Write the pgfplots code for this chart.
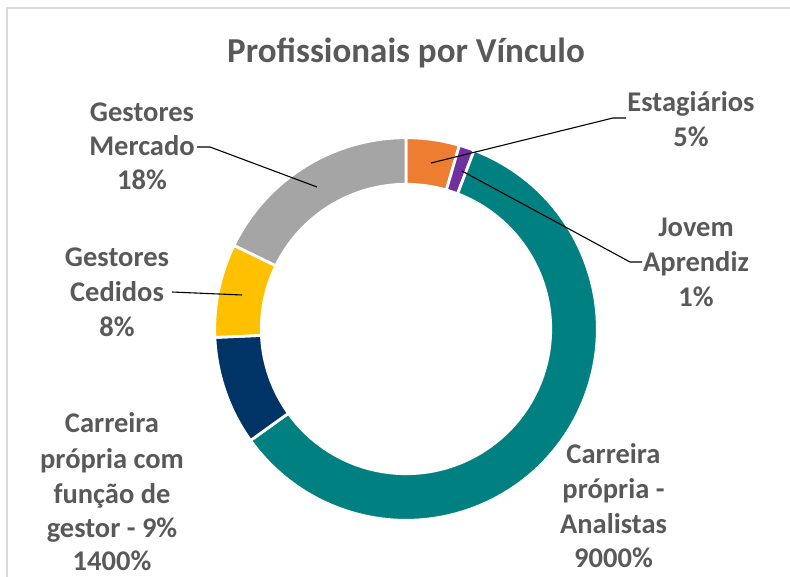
\documentclass[border=0pt]{standalone}
\usepackage{pgfplots}
\usepackage{pgfplotstable}
\pgfplotsset{compat=1.18}
\usepackage{fontspec}
\setmainfont{Carlito}
\definecolor{slice0}{HTML}{ED7D31}
\definecolor{slice1}{HTML}{7030A0}
\definecolor{slice2}{HTML}{008080}
\definecolor{slice3}{HTML}{003366}
\definecolor{slice4}{HTML}{FFC000}
\definecolor{slice5}{HTML}{A5A5A5}
\definecolor{txt}{HTML}{595959}
\definecolor{frame}{HTML}{D9D9D9}

% share of each slice (percent of the ring), clockwise from 12 o'clock
\pgfplotstableread[col sep=comma]{
idx,value
0,4.5
1,1.3
2,59.3
3,9.2
4,7.9
5,17.8
}\slices

\pgfmathsetmacro\cum{0}
\pgfplotsforeachungrouped \i in {0,...,5}{%
  \pgfplotstablegetelem{\i}{value}\of\slices
  \pgfmathsetmacro\aa{90-3.6*\cum}%
  \pgfmathsetmacro\cum{\cum+\pgfplotsretval}%
  \pgfmathsetmacro\bb{90-3.6*\cum}%
  \expandafter\xdef\csname sA\i\endcsname{\aa}%
  \expandafter\xdef\csname sB\i\endcsname{\bb}%
}

\tikzset{lbl/.style={anchor=base, text=txt, font=\fontsize{28.5}{35}\selectfont\bfseries, inner sep=0pt}}

\begin{document}
\begin{tikzpicture}
\useasboundingbox (0,0) rectangle (790pt,576pt);
\begin{axis}[
  at={(0pt,0pt)}, anchor=south west,
  x=1pt, y=1pt,
  xmin=0, xmax=790, ymin=0, ymax=576,
  hide axis, clip=false,
]
% frame
\draw[frame, line width=1.5pt] (axis cs:7,-20) -- (axis cs:7,568) -- (axis cs:820,568);
% ring slices
\pgfplotsinvokeforeach{0,...,5}{
  \filldraw[fill=slice#1, draw=white, line width=2.8pt, line join=miter]
    ([shift={(\csname sA#1\endcsname:191.3pt)}]axis cs:406,247)
    arc[start angle=\csname sA#1\endcsname, end angle=\csname sB#1\endcsname, radius=191.3pt]
    -- ([shift={(\csname sB#1\endcsname:144.7pt)}]axis cs:406,247)
    arc[start angle=\csname sB#1\endcsname, end angle=\csname sA#1\endcsname, radius=144.7pt]
    -- cycle;
}
% leader lines
\draw[black, line width=1.1pt] (axis cs:431,413) -- (axis cs:613,458) -- (axis cs:626,458);
\draw[black, line width=1.1pt] (axis cs:462,405) -- (axis cs:630,314) -- (axis cs:642,314);
\draw[black, line width=1.1pt] (axis cs:317,389) -- (axis cs:210,429) -- (axis cs:197,429);
\draw[black, line width=1.1pt] (axis cs:242,281) -- (axis cs:172,284);
% title
\node[anchor=base, text=txt, font=\fontsize{35}{42}\selectfont\bfseries, inner sep=0pt] at (axis cs:406,513) {Profissionais por Vínculo};
% labels (x, 576 - baseline)
\node[lbl] at (axis cs:691,464) {Estagiários};
\node[lbl] at (axis cs:691,429) {5\%};
\node[lbl] at (axis cs:696,339) {Jovem};
\node[lbl] at (axis cs:696,304) {Aprendiz};
\node[lbl] at (axis cs:696,269) {1\%};
\node[lbl] at (axis cs:613.5,113) {Carreira};
\node[lbl] at (axis cs:613.5,78) {própria -};
\node[lbl] at (axis cs:613.5,43) {Analistas};
\node[lbl] at (axis cs:613.5,9) {9000\%};
\node[lbl] at (axis cs:112,143) {Carreira};
\node[lbl] at (axis cs:112,108) {própria com};
\node[lbl] at (axis cs:112,73) {função de};
\node[lbl] at (axis cs:112,39) {gestor - 9\%};
\node[lbl] at (axis cs:112,6) {1400\%};
\node[lbl] at (axis cs:117,309) {Gestores};
\node[lbl] at (axis cs:117,274) {Cedidos};
\node[lbl] at (axis cs:117,239) {8\%};
\node[lbl] at (axis cs:142,454) {Gestores};
\node[lbl] at (axis cs:142,420) {Mercado};
\node[lbl] at (axis cs:142,386) {18\%};
\end{axis}
\end{tikzpicture}
\end{document}
